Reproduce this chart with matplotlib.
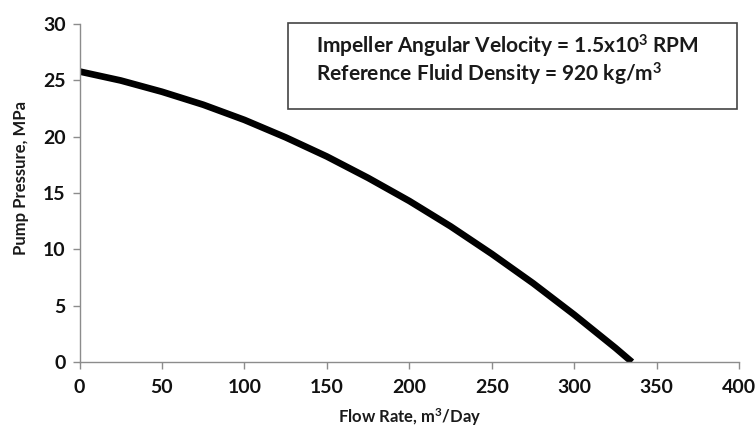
import matplotlib
matplotlib.use('Agg')
import matplotlib.pyplot as plt
from matplotlib.patches import Rectangle

# values
flow = [0, 25, 50, 75, 100, 125, 150, 175, 200, 225, 250, 275, 300, 325, 335]
pressure = [25.8, 25.0, 24.0, 22.85, 21.5, 19.95, 18.25, 16.35, 14.3, 12.05, 9.6, 7.0, 4.2, 1.25, 0.0]

x_ticks = [0, 50, 100, 150, 200, 250, 300, 350, 400]
y_ticks = [0, 5, 10, 15, 20, 25, 30]

plt.rcParams['font.family'] = ['Lato', 'DejaVu Sans']
plt.rcParams['mathtext.fontset'] = 'custom'
plt.rcParams['mathtext.rm'] = 'Lato'
plt.rcParams['mathtext.bf'] = 'Lato:bold'
plt.rcParams['mathtext.default'] = 'bf'

fig = plt.figure(figsize=(7.55, 4.32), dpi=100)
ax = fig.add_axes([0.1053, 0.162, 0.8737, 0.782])

ax.plot(flow, pressure, color='black', linewidth=4.8, solid_capstyle='butt')

ax.set_xlim(0, 400)
ax.set_ylim(0, 30)
ax.set_xticks(x_ticks)
ax.set_yticks(y_ticks)

for s in ['top', 'right']:
    ax.spines[s].set_visible(False)
for s in ['left', 'bottom']:
    ax.spines[s].set_color('#8c8c8c')
    ax.spines[s].set_linewidth(1.0)
ax.tick_params(axis='both', colors='#8c8c8c', length=5, width=1.0, direction='out',
               labelcolor='#111111', labelsize=14)
for lab in ax.get_xticklabels() + ax.get_yticklabels():
    lab.set_fontweight('bold')
ax.tick_params(axis='x', pad=7)
ax.tick_params(axis='y', pad=5)

ax.set_xlabel('Flow Rate, m$^3$/Day', fontsize=12, fontweight='bold', color='#1a1a1a', labelpad=8)
ax.set_ylabel('Pump Pressure, MPa', fontsize=12, fontweight='bold', color='#1a1a1a', labelpad=8)
ax.yaxis.set_label_coords(-0.077, 0.544)

# annotation box
box = Rectangle((288 / 755, 1 - 109 / 432), (737 - 288) / 755, (109 - 23) / 432,
                transform=fig.transFigure, facecolor='white', edgecolor='#444444',
                linewidth=1.2, zorder=5)
fig.patches.append(box)
fig.text(316 / 755, 1 - 53 / 432, 'Impeller Angular Velocity = 1.5x10$^3$ RPM',
         fontsize=15, fontweight='bold', color='#1a1a1a', va='baseline', zorder=6)
fig.text(316 / 755, 1 - 81 / 432, 'Reference Fluid Density = 920 kg/m$^3$',
         fontsize=15, fontweight='bold', color='#1a1a1a', va='baseline', zorder=6)

fig.savefig('out.png', dpi=100)
